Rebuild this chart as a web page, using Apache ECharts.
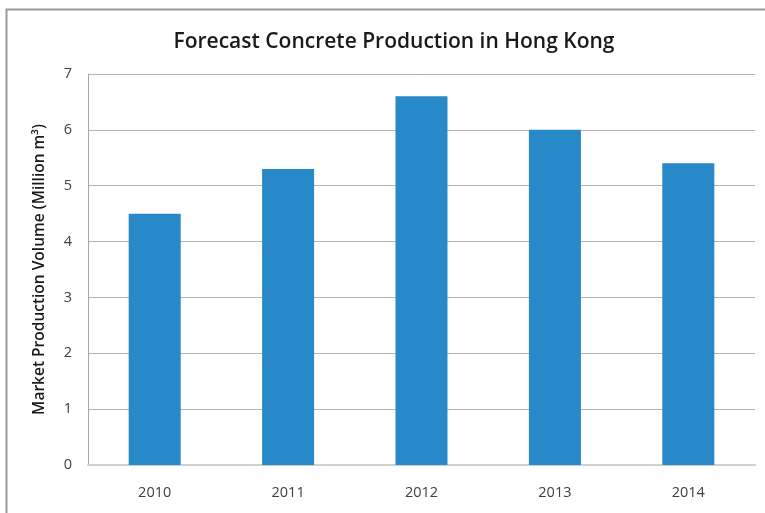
<!DOCTYPE html>
<html>
<head>
<meta charset="utf-8">
<script src="https://cdn.jsdelivr.net/npm/echarts@6/dist/echarts.min.js"></script>
<style>
  html, body { margin: 0; padding: 0; background: #fff; }
  #chart { width: 765px; height: 513px; }
</style>
</head>
<body>
<div id="chart"></div>
<script>
const years = ['2010', '2011', '2012', '2013', '2014']
const volumes = [4.5, 5.3, 6.6, 6.0, 5.4]
const yTicks = [0, 1, 2, 3, 4, 5, 6, 7]

const chart = echarts.init(document.getElementById('chart'), null, { renderer: 'canvas' })
chart.setOption({
  backgroundColor: '#fff',
  animation: false,
  title: {
    text: 'Forecast Concrete Production in Hong Kong',
    left: 389,
    textAlign: 'center',
    top: 27,
    textStyle: { fontFamily: 'Open Sans', fontSize: 21, fontWeight: 600, color: '#1a1a1a' }
  },
  graphic: [{
    type: 'rect',
    shape: { x: 6.5, y: 9.5, width: 800, height: 600 },
    style: { fill: 'none', stroke: '#9a9a9a', lineWidth: 2 },
    silent: true
  }],
  grid: { left: 88, right: 10, top: 74, bottom: 48 },
  xAxis: {
    type: 'category',
    data: years,
    axisTick: { show: false },
    axisLine: { lineStyle: { color: '#d0d0d0', width: 2 } },
    axisLabel: { margin: 20, fontFamily: 'Open Sans', fontSize: 14.5, color: '#404040' }
  },
  yAxis: {
    type: 'value',
    min: yTicks[0],
    max: yTicks[yTicks.length - 1],
    interval: 1,
    name: 'Market Production Volume (Million m³)',
    nameLocation: 'middle',
    nameGap: 40,
    nameTextStyle: { fontFamily: 'Open Sans', fontSize: 15.5, fontWeight: 600, color: '#1a1a1a' },
    axisLine: { show: true, lineStyle: { color: '#a8a8a8' } },
    axisTick: { show: false },
    splitLine: { lineStyle: { color: '#bab2b2' } },
    axisLabel: { margin: 16, fontFamily: 'Open Sans', fontSize: 14.5, color: '#404040' }
  },
  series: [{
    type: 'bar',
    data: volumes,
    barWidth: '39%',
    itemStyle: { color: '#2889c9' }
  }]
})
</script>
</body>
</html>
